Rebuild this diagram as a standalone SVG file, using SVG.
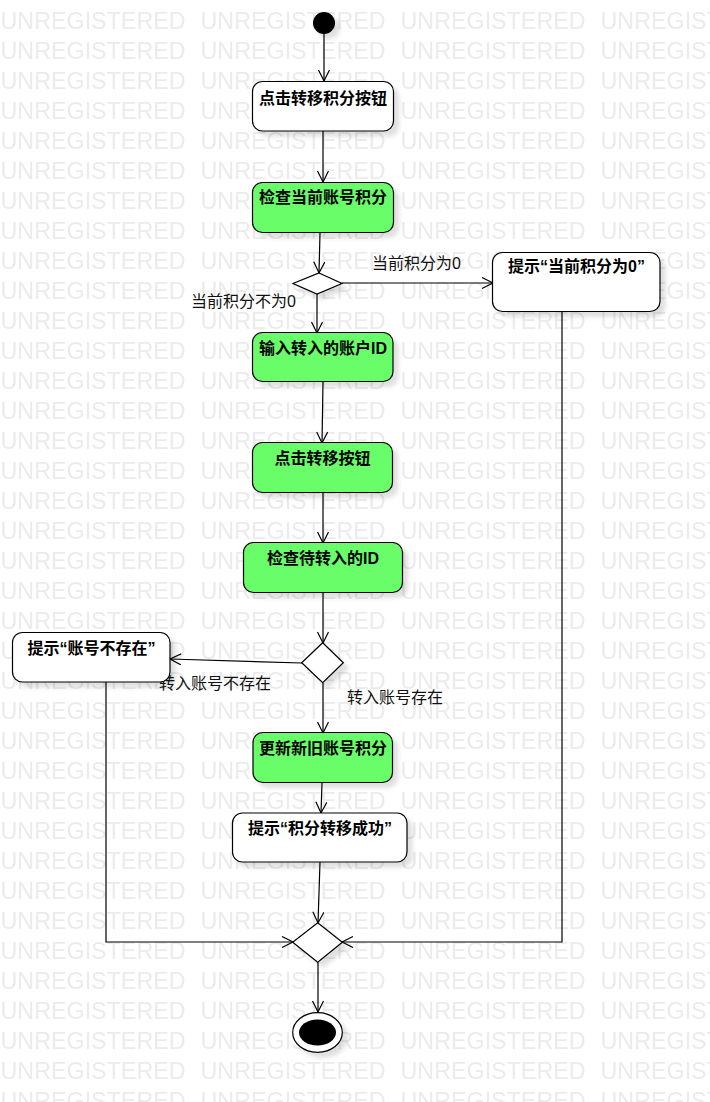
<svg xmlns="http://www.w3.org/2000/svg" width="710" height="1102" viewBox="0 0 710 1102">
<style>
.wm{font-family:"Liberation Sans",Arial,sans-serif;font-size:23.3px;fill:#ebebeb}
.box{stroke:#000;stroke-width:1.2}
.white{fill:#fff}
.green{fill:#6bfd6b}
.t{font-family:"Liberation Sans","Noto Sans CJK SC",sans-serif;font-size:16px;font-weight:bold;fill:#000;text-anchor:middle}
.lbl{font-family:"Liberation Sans","Noto Sans CJK SC",sans-serif;font-size:16px;fill:#111}
.c{fill:none;stroke:#000;stroke-width:1.2}
.dia{fill:#fff;stroke:#000;stroke-width:1.2}
</style>
<defs>
<pattern id="wmp" x="0" y="0" width="200" height="30" patternUnits="userSpaceOnUse">
<text class="wm" x="0.5" y="28.5">UNREGISTERED</text>
</pattern>
<filter id="sh" x="-20%" y="-20%" width="150%" height="160%">
<feDropShadow dx="5" dy="5" stdDeviation="2" flood-color="#000" flood-opacity="0.12"/>
</filter>
<marker id="arr" markerUnits="userSpaceOnUse" markerWidth="14" markerHeight="14" refX="12" refY="6" orient="auto">
<path d="M1,0.5 L12,6 L1,11.5" fill="none" stroke="#000" stroke-width="1.2"/>
</marker>
</defs>
<rect width="710" height="1102" fill="#fff"/>
<rect width="710" height="1102" fill="url(#wmp)"/>

<g id="connectors">
<line class="c" x1="324" y1="34" x2="324" y2="81" marker-end="url(#arr)"/>
<line class="c" x1="323" y1="131" x2="323" y2="182" marker-end="url(#arr)"/>
<line class="c" x1="320" y1="233" x2="319" y2="273" marker-end="url(#arr)"/>
<line class="c" x1="342" y1="283" x2="493" y2="283" marker-end="url(#arr)"/>
<line class="c" x1="317" y1="294" x2="317" y2="333" marker-end="url(#arr)"/>
<line class="c" x1="323" y1="382" x2="322" y2="443" marker-end="url(#arr)"/>
<line class="c" x1="323" y1="493" x2="323" y2="543" marker-end="url(#arr)"/>
<line class="c" x1="323" y1="593" x2="323" y2="643" marker-end="url(#arr)"/>
<line class="c" x1="302" y1="663" x2="170" y2="659" marker-end="url(#arr)"/>
<line class="c" x1="323" y1="683" x2="323" y2="733" marker-end="url(#arr)"/>
<line class="c" x1="322" y1="783" x2="321" y2="813" marker-end="url(#arr)"/>
<line class="c" x1="320" y1="862" x2="318" y2="923" marker-end="url(#arr)"/>
<polyline class="c" points="106,682 106,942 293,942" marker-end="url(#arr)"/>
<polyline class="c" points="562,312 562,942 342,942" marker-end="url(#arr)"/>
<line class="c" x1="318" y1="962" x2="318" y2="1012" marker-end="url(#arr)"/>
<text class="lbl" x="372" y="269">当前积分为0</text>
<text class="lbl" x="191" y="307">当前积分不为0</text>
<text class="lbl" x="159" y="689">转入账号不存在</text>
<text class="lbl" x="347" y="703">转入账号存在</text>
</g>

<g id="start"><circle cx="324" cy="23" r="11" fill="#000" filter="url(#sh)"/></g>

<g id="n1"><rect class="box white" x="252.5" y="81.5" width="141" height="49.5" rx="10" filter="url(#sh)"/><text class="t" x="323" y="104">点击转移积分按钮</text></g>
<g id="n2"><rect class="box green" x="252.5" y="182.5" width="141" height="50" rx="10" filter="url(#sh)"/><text class="t" x="323" y="203">检查当前账号积分</text></g>
<g id="d1"><polygon class="dia" points="319,273 342,283.5 317,294 293,283.5" filter="url(#sh)"/></g>
<g id="n_zero"><rect class="box white" x="492.5" y="252.5" width="167.5" height="59" rx="10" filter="url(#sh)"/><text class="t" x="576.5" y="272">提示“当前积分为0”</text></g>
<g id="n3"><rect class="box green" x="252.5" y="332.5" width="140.5" height="49" rx="10" filter="url(#sh)"/><text class="t" x="323" y="354">输入转入的账户ID</text></g>
<g id="n4"><rect class="box green" x="252.5" y="442.5" width="140" height="50" rx="10" filter="url(#sh)"/><text class="t" x="322.5" y="464">点击转移按钮</text></g>
<g id="n5"><rect class="box green" x="243.5" y="542.5" width="159" height="50" rx="10" filter="url(#sh)"/><text class="t" x="323" y="564">检查待转入的ID</text></g>
<g id="d2"><polygon class="dia" points="322.7,642.7 343.3,662.7 322.7,682.7 301.7,662.7" filter="url(#sh)"/></g>
<g id="n_noacct"><rect class="box white" x="12.5" y="632.5" width="157.5" height="49.5" rx="10" filter="url(#sh)"/><text class="t" x="91.5" y="654">提示“账号不存在”</text></g>
<g id="n6"><rect class="box green" x="253" y="732.5" width="139.5" height="50" rx="10" filter="url(#sh)"/><text class="t" x="323" y="754">更新新旧账号积分</text></g>
<g id="n7"><rect class="box white" x="232.5" y="813" width="174.5" height="49" rx="10" filter="url(#sh)"/><text class="t" x="320" y="834">提示“积分转移成功”</text></g>
<g id="d3"><polygon class="dia" points="317.7,922.7 342.3,942.3 317.7,962.3 292.7,942.3" filter="url(#sh)"/></g>
<g id="end"><ellipse cx="317.5" cy="1032.5" rx="24.8" ry="19.8" fill="#fff" stroke="#000" stroke-width="1.2" filter="url(#sh)"/><ellipse cx="317.5" cy="1032.5" rx="18.5" ry="13" fill="#000"/></g>
</svg>
